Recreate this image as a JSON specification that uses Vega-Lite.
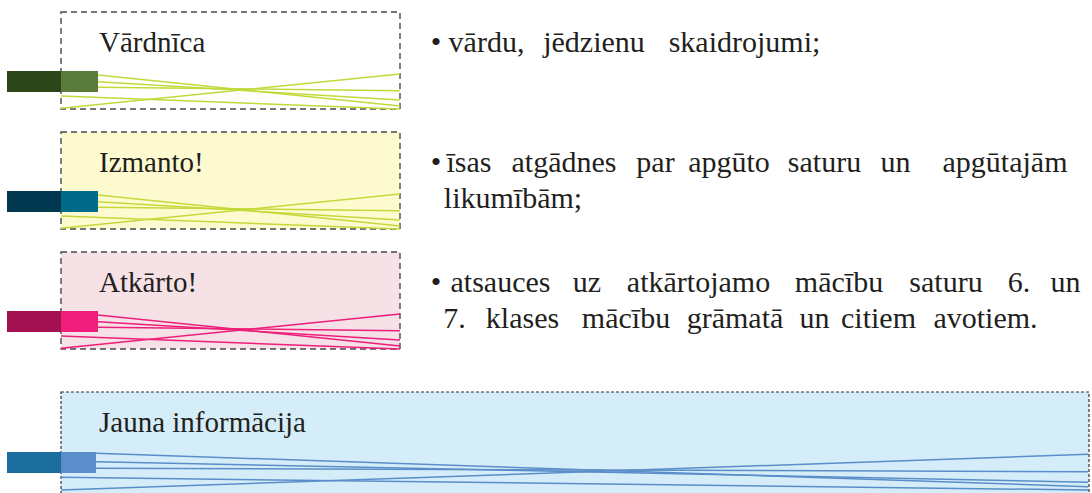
{
  "$schema": "https://vega.github.io/schema/vega-lite/v6.json",
  "width": 1092,
  "height": 493,
  "padding": 0,
  "autosize": {"type": "fit", "contains": "padding"},
  "background": "#ffffff",
  "config": {"view": {"stroke": null}},
  "datasets": {
    "boxes": [
      {"box": "Vārdnīca", "x1": 61, "x2": 400, "y1": 12, "y2": 109, "fill": "#ffffff"},
      {"box": "Izmanto!", "x1": 61, "x2": 400, "y1": 132, "y2": 229, "fill": "#fefad0"},
      {"box": "Atkārto!", "x1": 61, "x2": 400, "y1": 252, "y2": 349, "fill": "#f5e1e6"}
    ],
    "bigbox": [
      {"box": "Jauna informācija", "x1": 61, "x2": 1089, "y1": 392, "y2": 530, "fill": "#d5edf9"}
    ],
    "strips": [
      {"box": "Vārdnīca", "part": "dark", "x1": 7, "x2": 61, "y1": 71, "y2": 92, "c": "#2c4519"},
      {"box": "Vārdnīca", "part": "light", "x1": 61, "x2": 98, "y1": 71, "y2": 92, "c": "#5b7b3d"},
      {"box": "Izmanto!", "part": "dark", "x1": 7, "x2": 61, "y1": 191, "y2": 212, "c": "#00384f"},
      {"box": "Izmanto!", "part": "light", "x1": 61, "x2": 98, "y1": 191, "y2": 212, "c": "#006a8a"},
      {"box": "Atkārto!", "part": "dark", "x1": 7, "x2": 61, "y1": 311, "y2": 332, "c": "#a41150"},
      {"box": "Atkārto!", "part": "light", "x1": 61, "x2": 98, "y1": 311, "y2": 332, "c": "#ee1e7a"},
      {"box": "Jauna informācija", "part": "dark", "x1": 7, "x2": 61, "y1": 452, "y2": 473, "c": "#1b6d9e"},
      {"box": "Jauna informācija", "part": "light", "x1": 61, "x2": 96, "y1": 452, "y2": 473, "c": "#5a8dc9"}
    ],
    "lines": [
      {"box": "Vārdnīca", "x1": 98, "y1": 75, "x2": 400, "y2": 106, "c": "#c3d93a"},
      {"box": "Vārdnīca", "x1": 98, "y1": 81.7, "x2": 400, "y2": 100, "c": "#c3d93a"},
      {"box": "Vārdnīca", "x1": 98, "y1": 87.3, "x2": 400, "y2": 90.7, "c": "#c3d93a"},
      {"box": "Vārdnīca", "x1": 61, "y1": 96, "x2": 400, "y2": 109, "c": "#c3d93a"},
      {"box": "Vārdnīca", "x1": 61, "y1": 108.3, "x2": 400, "y2": 74, "c": "#c3d93a"},
      {"box": "Izmanto!", "x1": 98, "y1": 195, "x2": 400, "y2": 226, "c": "#c3d93a"},
      {"box": "Izmanto!", "x1": 98, "y1": 201.7, "x2": 400, "y2": 220, "c": "#c3d93a"},
      {"box": "Izmanto!", "x1": 98, "y1": 207.3, "x2": 400, "y2": 210.7, "c": "#c3d93a"},
      {"box": "Izmanto!", "x1": 61, "y1": 216, "x2": 400, "y2": 229, "c": "#c3d93a"},
      {"box": "Izmanto!", "x1": 61, "y1": 228.3, "x2": 400, "y2": 194, "c": "#c3d93a"},
      {"box": "Atkārto!", "x1": 98, "y1": 315, "x2": 400, "y2": 346, "c": "#ee1e7a"},
      {"box": "Atkārto!", "x1": 98, "y1": 321.7, "x2": 400, "y2": 340, "c": "#ee1e7a"},
      {"box": "Atkārto!", "x1": 98, "y1": 327.3, "x2": 400, "y2": 330.7, "c": "#ee1e7a"},
      {"box": "Atkārto!", "x1": 61, "y1": 336, "x2": 400, "y2": 349, "c": "#ee1e7a"},
      {"box": "Atkārto!", "x1": 61, "y1": 348.3, "x2": 400, "y2": 314, "c": "#ee1e7a"},
      {"box": "Jauna informācija", "x1": 96, "y1": 453.3, "x2": 1088, "y2": 486.7, "c": "#5a8dc9"},
      {"box": "Jauna informācija", "x1": 96, "y1": 461.7, "x2": 1088, "y2": 482.3, "c": "#5a8dc9"},
      {"box": "Jauna informācija", "x1": 96, "y1": 468.3, "x2": 1088, "y2": 471.7, "c": "#5a8dc9"},
      {"box": "Jauna informācija", "x1": 61, "y1": 477.3, "x2": 1088, "y2": 490, "c": "#5a8dc9"},
      {"box": "Jauna informācija", "x1": 61, "y1": 490, "x2": 1088, "y2": 454.3, "c": "#5a8dc9"}
    ],
    "labels": [
      {"t": "Vārdnīca", "x": 99, "y": 52},
      {"t": "Izmanto!", "x": 99, "y": 172},
      {"t": "Atkārto!", "x": 99, "y": 292},
      {"t": "Jauna informācija", "x": 99, "y": 432}
    ],
    "words": [
      {"t": "•", "x": 436, "y": 52},
      {"t": "vārdu,", "x": 486.5, "y": 52},
      {"t": "jēdzienu", "x": 594, "y": 52},
      {"t": "skaidrojumi;", "x": 744.5, "y": 52},
      {"t": "•", "x": 436, "y": 172},
      {"t": "īsas", "x": 469, "y": 172},
      {"t": "atgādnes", "x": 564, "y": 172},
      {"t": "par", "x": 655.5, "y": 172},
      {"t": "apgūto", "x": 729, "y": 172},
      {"t": "saturu", "x": 824.5, "y": 172},
      {"t": "un", "x": 895.5, "y": 172},
      {"t": "apgūtajām", "x": 1005, "y": 172},
      {"t": "likumībām;", "x": 513, "y": 208},
      {"t": "•", "x": 436, "y": 292},
      {"t": "atsauces", "x": 500.5, "y": 292},
      {"t": "uz", "x": 587, "y": 292},
      {"t": "atkārtojamo", "x": 698.5, "y": 292},
      {"t": "mācību", "x": 839, "y": 292},
      {"t": "saturu", "x": 946, "y": 292},
      {"t": "6.", "x": 1019, "y": 292},
      {"t": "un", "x": 1065.5, "y": 292},
      {"t": "7.", "x": 454.5, "y": 328},
      {"t": "klases", "x": 522.5, "y": 328},
      {"t": "mācību", "x": 626, "y": 328},
      {"t": "grāmatā", "x": 735, "y": 328},
      {"t": "un", "x": 814.5, "y": 328},
      {"t": "citiem", "x": 878.5, "y": 328},
      {"t": "avotiem.", "x": 985.5, "y": 328}
    ]
  },
  "layer": [
    {
      "data": {"name": "boxes"},
      "mark": {"type": "rect", "stroke": "#4a4a4a", "strokeWidth": 1.4, "strokeDash": [6, 4]},
      "encoding": {
        "x": {"field": "x1", "type": "quantitative", "scale": {"domain": [0, 1092], "nice": false, "zero": false}, "axis": null},
        "x2": {"field": "x2"},
        "y": {"field": "y1", "type": "quantitative", "scale": {"domain": [0, 493], "nice": false, "zero": false, "reverse": true}, "axis": null},
        "y2": {"field": "y2"},
        "fill": {"field": "fill", "type": "nominal", "scale": null}
      }
    },
    {
      "data": {"name": "bigbox"},
      "mark": {"type": "rect", "stroke": "#333333", "strokeWidth": 1.2, "strokeDash": [3, 2], "clip": true},
      "encoding": {
        "x": {"field": "x1", "type": "quantitative"},
        "x2": {"field": "x2"},
        "y": {"field": "y1", "type": "quantitative"},
        "y2": {"field": "y2"},
        "fill": {"field": "fill", "type": "nominal", "scale": null}
      }
    },
    {
      "data": {"name": "lines"},
      "mark": {"type": "rule", "strokeWidth": 1.5},
      "encoding": {
        "x": {"field": "x1", "type": "quantitative"},
        "x2": {"field": "x2"},
        "y": {"field": "y1", "type": "quantitative"},
        "y2": {"field": "y2"},
        "color": {"field": "c", "type": "nominal", "scale": null}
      }
    },
    {
      "data": {"name": "strips"},
      "mark": {"type": "rect"},
      "encoding": {
        "x": {"field": "x1", "type": "quantitative"},
        "x2": {"field": "x2"},
        "y": {"field": "y1", "type": "quantitative"},
        "y2": {"field": "y2"},
        "fill": {"field": "c", "type": "nominal", "scale": null}
      }
    },
    {
      "data": {"name": "labels"},
      "mark": {"type": "text", "align": "left", "baseline": "alphabetic", "font": "'Liberation Serif', serif", "fontSize": 29, "color": "#231f20"},
      "encoding": {
        "x": {"field": "x", "type": "quantitative"},
        "y": {"field": "y", "type": "quantitative"},
        "text": {"field": "t"}
      }
    },
    {
      "data": {"name": "words"},
      "mark": {"type": "text", "align": "center", "baseline": "alphabetic", "font": "'Liberation Serif', serif", "fontSize": 30, "color": "#231f20"},
      "encoding": {
        "x": {"field": "x", "type": "quantitative"},
        "y": {"field": "y", "type": "quantitative"},
        "text": {"field": "t"}
      }
    }
  ]
}
